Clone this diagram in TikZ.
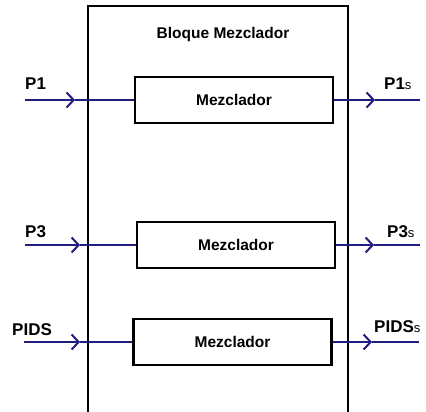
\documentclass[tikz,border=0pt]{standalone}
\usepackage{fontspec}
\setmainfont{Liberation Sans}
\usetikzlibrary{arrows.meta}
\definecolor{signal}{RGB}{32,30,128}
\tikzset{
  mixer/.style={draw=black, line width=2.2pt, minimum width=198pt, minimum height=46pt,
    inner sep=0pt, font=\fontsize{15.5}{15.5}\selectfont\bfseries},
  flow/.style={draw=signal, line width=2pt},
  flowarrow/.style={flow, -{Straight Barb[length=7pt, width=15pt, line width=2pt]}},
  portlabel/.style={font=\fontsize{17}{17}\selectfont\bfseries, inner sep=0pt},
  housing/.style={draw=black, line width=2.2pt}
}
\newcommand{\sub}[1]{{\fontsize{13}{13}\selectfont\mdseries #1}}
\begin{document}
\begin{tikzpicture}[x=1pt, y=-1pt]
  \useasboundingbox (0,0) rectangle (426,412);
  \fill[white] (0,0) rectangle (426,412);

  % housing of the mixer block, open at the bottom
  \draw[housing] (88,412) -- (88,6) -- (348,6) -- (348,412);
  \node[font=\fontsize{15.5}{15.5}\selectfont\bfseries] (title) at (223,34) {Bloque Mezclador};

  % mixers
  \node[mixer] (m1) at (234,100) {Mezclador};
  \node[mixer] (m2) at (236,245) {Mezclador};
  \node[mixer] (m3) at (232.5,342) {Mezclador};

  % free ends and arrow tips of the signal lines
  \coordinate (in1) at (25,100);   \coordinate (tin1) at (75,100);
  \coordinate (in2) at (25,245);   \coordinate (tin2) at (80,245);
  \coordinate (in3) at (24,342);   \coordinate (tin3) at (80,342);
  \coordinate (tout1) at (375,100); \coordinate (out1) at (420,100);
  \coordinate (tout2) at (374,245); \coordinate (out2) at (420,245);
  \coordinate (tout3) at (372,342); \coordinate (out3) at (419,342);

  % inputs
  \draw[flowarrow] (in1) -- (tin1);  \draw[flow] (tin1) -- (m1.west);
  \draw[flowarrow] (in2) -- (tin2);  \draw[flow] (tin2) -- (m2.west);
  \draw[flowarrow] (in3) -- (tin3);  \draw[flow] (tin3) -- (m3.west);

  % outputs
  \draw[flowarrow] (m1.east) -- (tout1);  \draw[flow] (tout1) -- (out1);
  \draw[flowarrow] (m2.east) -- (tout2);  \draw[flow] (tout2) -- (out2);
  \draw[flowarrow] (m3.east) -- (tout3);  \draw[flow] (tout3) -- (out3);

  % port labels
  \node[portlabel, anchor=base west] (lp1) at (25,90) {P1};
  \node[portlabel, anchor=base west] (lp3) at (25,237) {P3};
  \node[portlabel, anchor=base west] (lpids) at (12,335) {PIDS};
  \node[portlabel, anchor=base west] (lp1s) at (384,90) {P1\sub{s}};
  \node[portlabel, anchor=base west] (lp3s) at (387,237) {P3\sub{s}};
  \node[portlabel, anchor=base west] (lpidss) at (374,332) {PIDS\sub{s}};
\end{tikzpicture}
\end{document}
